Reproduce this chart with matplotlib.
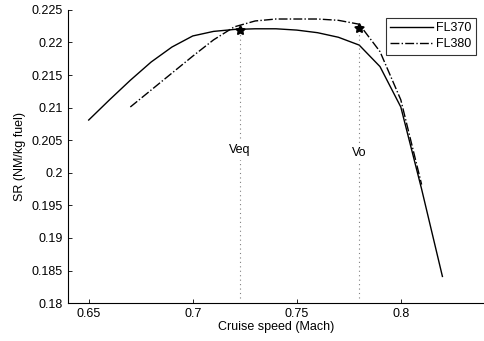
import numpy as np
import matplotlib.pyplot as plt

plt.rcParams['font.family'] = ['Liberation Sans', 'DejaVu Sans']

mach_370 = [0.65, 0.66, 0.67, 0.68, 0.69, 0.70, 0.71, 0.72, 0.73, 0.74,
            0.75, 0.76, 0.77, 0.78, 0.79, 0.80, 0.81, 0.82]
sr_370 = [0.2081, 0.2112, 0.2142, 0.2170, 0.2193, 0.2210, 0.2217, 0.2220, 0.2221, 0.2221,
          0.2219, 0.2215, 0.2208, 0.2196, 0.2163, 0.2101, 0.1975, 0.1841]

mach_380 = [0.67, 0.68, 0.69, 0.70, 0.71, 0.72, 0.73, 0.74, 0.75, 0.76,
            0.77, 0.78, 0.79, 0.80, 0.81]
sr_380 = [0.2101, 0.2127, 0.2153, 0.2179, 0.2204, 0.2224, 0.2233, 0.2236, 0.2236, 0.2236,
          0.2234, 0.2228, 0.2186, 0.2112, 0.1982]

v_eq, sr_eq = 0.7225, 0.2219
v_o, sr_o = 0.78, 0.2222

fig = plt.figure(figsize=(4.85, 3.41), dpi=100)
ax = fig.add_axes([0.140, 0.111, 0.858, 0.860])

ax.plot(mach_370, sr_370, color='black', linestyle='-', linewidth=1.0, label='FL370')
ax.plot(mach_380, sr_380, color='black', linestyle='-.', linewidth=1.0, label='FL380')

# speed markers and guide lines
for v, s, name, ty in [(v_eq, sr_eq, 'Veq', 0.2035), (v_o, sr_o, 'Vo', 0.2030)]:
    ax.vlines(v, 0.1808, s - 0.0004, colors='#808080', linestyles=(0, (1, 3)), linewidth=0.8)
    ax.plot(v, s, marker=(5, 1, 0), color='black', markersize=7, linestyle='none')
    ax.text(v, ty, name, ha='center', va='center', fontsize=9,
            bbox=dict(facecolor='white', edgecolor='none', pad=3))

ax.set_xlim(0.64, 0.84)
ax.set_ylim(0.18, 0.225)
ax.set_xticks([0.65, 0.7, 0.75, 0.8])
ax.set_xticklabels(['0.65', '0.7', '0.75', '0.8'])
yt = np.arange(0.18, 0.2251, 0.005)
ax.set_yticks(yt)
ax.set_yticklabels(['%g' % round(t, 3) for t in yt])
ax.tick_params(direction='in', length=3, labelsize=9, width=0.6)
ax.spines['top'].set_visible(False)
ax.spines['right'].set_visible(False)
ax.spines['left'].set_linewidth(0.8)
ax.spines['bottom'].set_linewidth(0.8)

ax.set_xlabel('Cruise speed (Mach)', fontsize=9, labelpad=1)
ax.set_ylabel('SR (NM/kg fuel)', fontsize=9, labelpad=4)

leg = ax.legend(loc='upper right', fontsize=9, frameon=True, fancybox=False,
                edgecolor='black', handlelength=3.4, borderaxespad=0.3,
                borderpad=0.35, labelspacing=0.3, handletextpad=0.3,
                bbox_to_anchor=(0.99, 0.985))
leg.get_frame().set_linewidth(0.8)

fig.savefig('out.png', dpi=100)
